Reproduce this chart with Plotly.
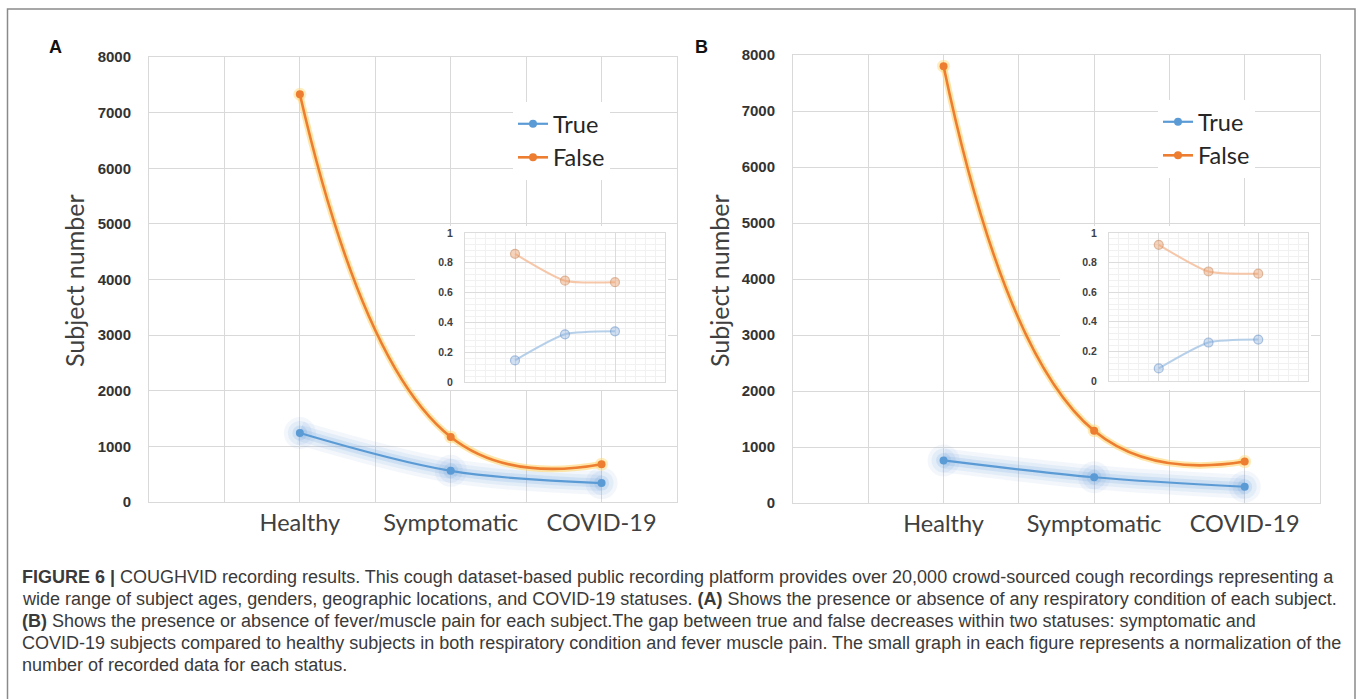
import numpy as np
import plotly.graph_objects as go

W, H = 1358, 699

# ---------------- data ----------------
categories = ["Healthy", "Symptomatic", "COVID-19"]
a_true = [1240, 560, 340]
a_false = [7330, 1170, 680]
b_true = [760, 460, 290]
b_false = [7800, 1290, 740]
a_true_norm = [0.145, 0.32, 0.34]
a_false_norm = [0.86, 0.68, 0.67]
b_true_norm = [0.085, 0.26, 0.28]
b_false_norm = [0.92, 0.74, 0.725]
main_yticks = [0, 1000, 2000, 3000, 4000, 5000, 6000, 7000, 8000]
inset_yticks = [0, 0.2, 0.4, 0.6, 0.8, 1]
series_names = ["True", "False"]
panel_letters = ["A", "B"]
y_title = "Subject number"
caption_lines = [
    "<b>FIGURE 6 |</b> COUGHVID recording results. This cough dataset-based public recording platform provides over 20,000 crowd-sourced cough recordings representing a",
    "wide range of subject ages, genders, geographic locations, and COVID-19 statuses. <b>(A)</b> Shows the presence or absence of any respiratory condition of each subject.",
    "<b>(B)</b> Shows the presence or absence of fever/muscle pain for each subject.The gap between true and false decreases within two statuses: symptomatic and",
    "COVID-19 subjects compared to healthy subjects in both respiratory condition and fever muscle pain. The small graph in each figure represents a normalization of the",
    "number of recorded data for each status.",
]

xpos = list(range(len(categories)))

# ---------------- styles ----------------
BLUE = "#5B9BD5"
ORANGE = "#ED7D31"
GRID = "#d9d9d9"
LABEL_FONT = "Lato, 'Open Sans', sans-serif"
NUM_FONT = "'Liberation Sans', Arial, sans-serif"

MAIN_XR = [-1, 2.5]
MAIN_YR = [0, 8000]
A_BOX = (149, 677, 57, 502)   # left, right, top, bottom (px)
B_BOX = (793, 1320, 55, 503)


def dx(a, b):
    return [a / W, b / W]


def dy(top, bottom):
    return [1 - bottom / H, 1 - top / H]


def px2data(box, px, py):
    l, r, t, b = box
    xv = MAIN_XR[0] + (px - l) / (r - l) * (MAIN_XR[1] - MAIN_XR[0])
    yv = MAIN_YR[0] + (b - py) / (b - t) * (MAIN_YR[1] - MAIN_YR[0])
    return xv, yv


fig = go.Figure()


def add_main(xa, ya, tv, fv, legend):
    # blue glow
    for w, ms, col in [(24, 32, "rgba(120,170,225,0.09)"),
                       (16, 24, "rgba(120,170,225,0.13)"),
                       (9, 15, "rgba(120,170,225,0.2)")]:
        fig.add_trace(go.Scatter(x=xpos, y=tv, mode="lines+markers", xaxis=xa, yaxis=ya,
                                 line=dict(color=col, width=w, shape="spline", smoothing=1),
                                 marker=dict(size=ms, color=col), showlegend=False,
                                 hoverinfo="skip"))
    fig.add_trace(go.Scatter(x=xpos, y=tv, mode="lines+markers", name=series_names[0],
                             xaxis=xa, yaxis=ya, legend=legend, legendrank=1,
                             line=dict(color=BLUE, width=2.2, shape="spline", smoothing=1),
                             marker=dict(size=8, color=BLUE)))
    # orange glow
    fig.add_trace(go.Scatter(x=xpos, y=fv, mode="lines+markers", xaxis=xa, yaxis=ya,
                             line=dict(color="rgba(255,214,110,0.6)", width=6.5, shape="spline", smoothing=1.3),
                             marker=dict(size=13, color="rgba(255,214,110,0.45)"),
                             showlegend=False, hoverinfo="skip"))
    fig.add_trace(go.Scatter(x=xpos, y=fv, mode="lines+markers", name=series_names[1],
                             xaxis=xa, yaxis=ya, legend=legend, legendrank=2,
                             line=dict(color=ORANGE, width=2.6, shape="spline", smoothing=1.3),
                             marker=dict(size=8, color=ORANGE)))


def add_inset(xa, ya, tn, fn):
    fig.add_trace(go.Scatter(x=xpos, y=fn, mode="lines+markers", xaxis=xa, yaxis=ya,
                             line=dict(color="rgba(244,185,148,0.8)", width=2, shape="spline", smoothing=0.6),
                             marker=dict(size=9, color="rgba(236,165,120,0.5)",
                                         line=dict(color="rgba(200,140,100,0.55)", width=1.2)),
                             showlegend=False, hoverinfo="skip"))
    fig.add_trace(go.Scatter(x=xpos, y=tn, mode="lines+markers", xaxis=xa, yaxis=ya,
                             line=dict(color="rgba(170,200,230,0.85)", width=2, shape="spline", smoothing=0.6),
                             marker=dict(size=9, color="rgba(150,185,225,0.45)",
                                         line=dict(color="rgba(110,150,200,0.55)", width=1.2)),
                             showlegend=False, hoverinfo="skip"))


add_main("x", "y", a_true, a_false, "legend")
add_main("x2", "y2", b_true, b_false, "legend2")
add_inset("x3", "y3", a_true_norm, a_false_norm)
add_inset("x4", "y4", b_true_norm, b_false_norm)

minor_main = [p - 0.5 for p in xpos] + [xpos[-1] + 0.5]
minor_inset = [round(v, 2) for v in np.arange(-0.8, 3.0, 0.2) if abs(v - round(v)) > 1e-6]


def main_x(domain, anchor):
    return dict(domain=domain, anchor=anchor, range=MAIN_XR, tickmode="array",
                tickvals=xpos, ticktext=categories, showgrid=True, gridcolor=GRID, gridwidth=1,
                minor=dict(tickmode="array", tickvals=minor_main, showgrid=True, gridcolor=GRID, ticks=""),
                showline=True, mirror=True, linecolor=GRID, linewidth=1, zeroline=False, ticks="",
                tickfont=dict(family=LABEL_FONT, size=23.5, color="#404040"),
                ticklabelstandoff=0, automargin=False, fixedrange=True)


def main_y(domain, anchor):
    return dict(domain=domain, anchor=anchor, range=MAIN_YR, tickmode="array",
                tickvals=main_yticks, showgrid=True, gridcolor=GRID, gridwidth=1,
                showline=True, mirror=True, linecolor=GRID, zeroline=False, ticks="",
                tickfont=dict(family=NUM_FONT, size=15, color="#333333", weight="bold"),
                ticklabelstandoff=14, automargin=False, fixedrange=True)


def inset_x(domain, anchor):
    return dict(domain=domain, anchor=anchor, range=[-1, 3], tickmode="array",
                tickvals=xpos, showticklabels=False, showgrid=True, gridcolor="#dcdcdc",
                minor=dict(tickmode="array", tickvals=minor_inset, showgrid=True,
                           gridcolor="#f1f1f1", ticks=""),
                showline=True, mirror=True, linecolor="#dcdcdc", zeroline=False, ticks="",
                automargin=False, fixedrange=True)


def inset_y(domain, anchor):
    return dict(domain=domain, anchor=anchor, range=[0, 1], tickmode="array",
                tickvals=inset_yticks, showgrid=True, gridcolor="#dcdcdc",
                minor=dict(dtick=0.04, showgrid=True, gridcolor="#f1f1f1", ticks=""),
                showline=True, mirror=True, linecolor="#dcdcdc", zeroline=False, ticks="",
                tickfont=dict(family=NUM_FONT, size=10.5, color="#404040", weight="bold"),
                ticklabelstandoff=9, automargin=False, fixedrange=True)


legend_style = dict(bgcolor="white", borderwidth=0, xanchor="left", yanchor="top",
                    font=dict(family=LABEL_FONT, size=23.5, color="#262626"),
                    tracegroupgap=0, itemclick=False, itemdoubleclick=False)

annotations = []
for letter, (px, py) in zip(panel_letters, [(55, 47), (701, 47)]):
    annotations.append(dict(text=f"<b>{letter}</b>", x=px / W, y=1 - py / H, xref="paper", yref="paper",
                            showarrow=False, xanchor="center", yanchor="middle",
                            font=dict(family=NUM_FONT, size=18, color="#111111")))
for px in (74, 719):
    annotations.append(dict(text=y_title, x=px / W, y=1 - 281 / H, xref="paper", yref="paper",
                            showarrow=False, textangle=-90, xanchor="center", yanchor="middle",
                            font=dict(family=LABEL_FONT, size=25, color="#404040")))
for i, line in enumerate(caption_lines):
    annotations.append(dict(text=line, x=20 / W, y=1 - (577 + 22 * i) / H, xref="paper", yref="paper",
                            showarrow=False, xanchor="left", yanchor="middle", align="left",
                            font=dict(family=NUM_FONT, size=18, color="#3a3a3a")))

shapes = [
    # outer frame
    dict(type="rect", xref="paper", yref="paper", x0=7.5 / W, x1=1355 / W, y0=-0.05, y1=1 - 9 / H,
         line=dict(color="#8a8a8a", width=1.5), fillcolor="rgba(0,0,0,0)", layer="above"),
]
# white backing behind inset label areas (hides main grid)
for xr, yr, box, (l, r, t, b) in [("x", "y", A_BOX, (415, 668, 226, 390)),
                                  ("x2", "y2", B_BOX, (1060, 1311, 226, 390))]:
    x0, y0 = px2data(box, l, b)
    x1, y1 = px2data(box, r, t)
    shapes.append(dict(type="rect", xref=xr, yref=yr, x0=x0, x1=x1, y0=y0, y1=y1,
                       line=dict(width=0), fillcolor="white", layer="between"))

fig.update_layout(
    width=W, height=H, margin=dict(l=0, r=0, t=0, b=0), template="none",
    paper_bgcolor="white", plot_bgcolor="white", hovermode=False,
    xaxis=main_x(dx(A_BOX[0], A_BOX[1]), "y"), yaxis=main_y(dy(A_BOX[2], A_BOX[3]), "x"),
    xaxis2=main_x(dx(B_BOX[0], B_BOX[1]), "y2"), yaxis2=main_y(dy(B_BOX[2], B_BOX[3]), "x2"),
    xaxis3=inset_x(dx(465, 665), "y3"), yaxis3=inset_y(dy(233, 382), "x3"),
    xaxis4=inset_x(dx(1109, 1308), "y4"), yaxis4=inset_y(dy(233, 381), "x4"),
    legend=dict(x=513 / W, y=1 - 102 / H, **legend_style),
    legend2=dict(x=1158 / W, y=1 - 100 / H, **legend_style),
    annotations=annotations, shapes=shapes,
)

fig.write_html("out.html", config={"displayModeBar": False},
               post_script=["document.body.style.margin='0';"])
